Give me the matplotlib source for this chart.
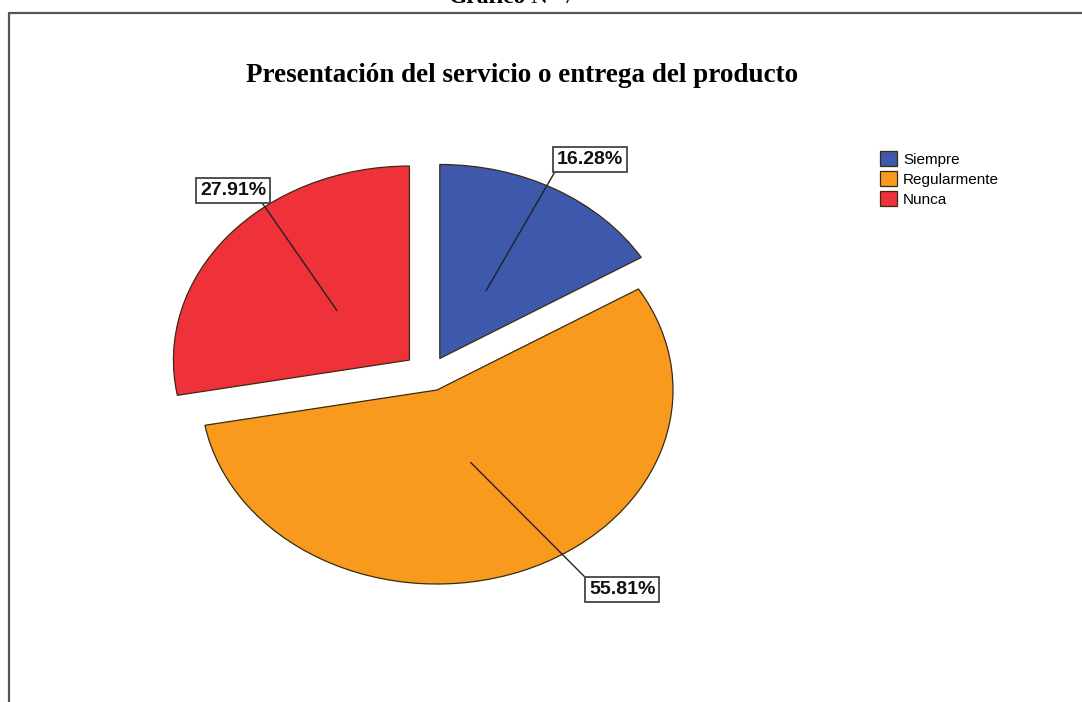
import numpy as np
import matplotlib
matplotlib.use("Agg")
import matplotlib.pyplot as plt
from matplotlib.lines import Line2D

# answers and their share of respondents (%)
categories = ["Siempre", "Regularmente", "Nunca"]
percentages = [16.28, 55.81, 27.91]
colors = ["#3e58ac", "#f89a1e", "#ef3139"]
explode = [0.09, 0.09, 0.11]

fig = plt.figure(figsize=(10.82, 7.02), dpi=100)

# pie centre sits around (429, 374) px, ellipse radii 236 x 194 px
W, H = 1082, 702
cx, cy, rx, ry = 429.4, 373.7, 236, 194
span = 1.5
ax = fig.add_axes([(cx - span * rx) / W, (H - cy - span * ry) / H,
                   2 * span * rx / W, 2 * span * ry / H])

wedges, _ = ax.pie(percentages, colors=colors, explode=explode,
                   startangle=90, counterclock=False,
                   wedgeprops=dict(edgecolor="#3a2a10", linewidth=0.9))
ax.set_aspect("auto")
ax.set_xlim(-span, span)
ax.set_ylim(-span, span)
ax.axis("off")

# label boxes: (x, y, ha, va, corner the leader line meets)
label_pos = [(0.541, 1.06, "left", "bottom", (0, 0)),
             (0.676, -1.069, "left", "top", (0, 1)),
             (-0.692, 0.90, "right", "bottom", (0.9, 0))]

for w, pct, (tx, ty, ha, va, rel) in zip(wedges, percentages, label_pos):
    mid = np.deg2rad((w.theta1 + w.theta2) / 2)
    px = w.center[0] + 0.4 * np.cos(mid)
    py = w.center[1] + 0.4 * np.sin(mid)
    ax.annotate(f"{pct:.2f}%", xy=(px, py), xytext=(tx, ty),
                ha=ha, va=va, fontsize=14, fontweight="bold",
                family="Liberation Sans", color="#111",
                bbox=dict(boxstyle="square,pad=0.2", fc="white",
                          ec="#444", lw=1.3),
                arrowprops=dict(arrowstyle="-", color="#222", lw=1.0,
                                shrinkA=0, shrinkB=0, relpos=rel))

fig.legend(wedges, categories, loc="upper left",
           bbox_to_anchor=(874 / W, 1 - 145 / H), frameon=False,
           prop=dict(family="Liberation Sans", size=11),
           handlelength=1.1, handleheight=1.1, handletextpad=0.4,
           labelspacing=0.3, borderaxespad=0)

fig.text(522 / W, 1 - 75 / H, "Presentación del servicio o entrega del producto",
         ha="center", va="center", family="Liberation Serif",
         fontweight="bold", fontsize=19.5)

# chart heading partly above the page edge
fig.text(526 / W, 1 - 3 / H, "Gráfico", ha="right", va="baseline",
         family="Liberation Serif", fontweight="bold", fontsize=17)
fig.text(531 / W, 1 - 3 / H, "N° 7", ha="left", va="baseline",
         family="Liberation Serif", fontsize=17)

# frame around the chart
fig.add_artist(Line2D([8.5 / W, 8.5 / W, 1], [0, 1 - 12.5 / H, 1 - 12.5 / H],
                      transform=fig.transFigure, color="#555", lw=1.6))

fig.savefig("out.png", dpi=100)
